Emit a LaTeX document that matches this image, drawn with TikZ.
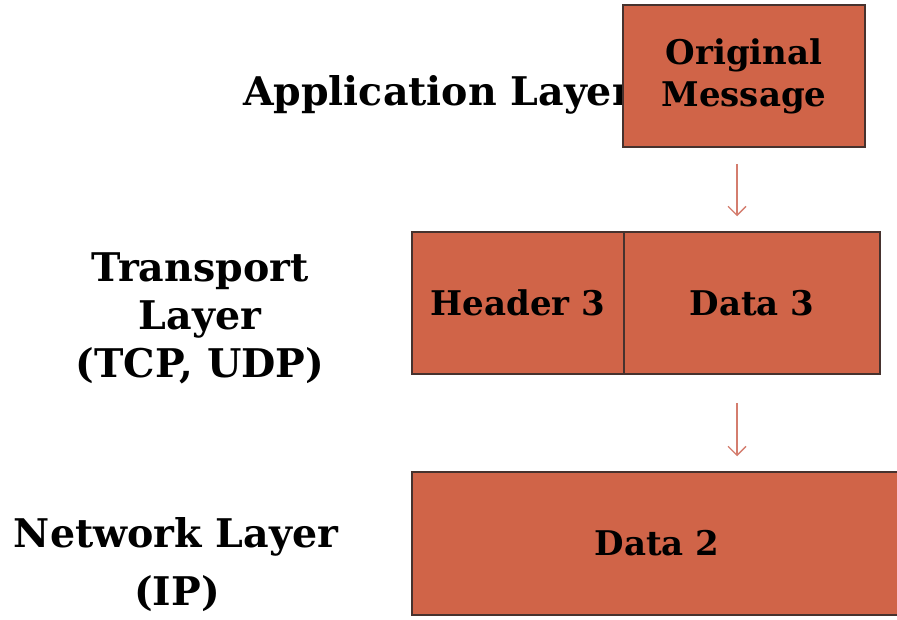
\documentclass[tikz,border=0pt]{standalone}
\usepackage{fontspec}
\setmainfont{DejaVu Serif}
\usetikzlibrary{arrows.meta}
\definecolor{boxfill}{RGB}{208,100,72}
\definecolor{boxline}{RGB}{70,50,46}
\definecolor{arrcol}{RGB}{212,125,110}
\newcommand{\lblfont}{\fontsize{39.5}{48}\selectfont\bfseries}
\newcommand{\boxfont}{\fontsize{34}{42}\selectfont\bfseries}
\tikzset{
  layerbox/.style={draw=boxline, line width=1.5pt, fill=boxfill, rectangle, inner sep=0pt, align=center, font=\boxfont},
  layerlbl/.style={align=center, font=\lblfont, inner sep=0pt},
  flowarrow/.style={draw=arrcol, line width=1.4pt, -{Straight Barb[length=9pt,width=18pt]}}
}
\begin{document}
\begin{tikzpicture}[x=1pt,y=-1pt]
\useasboundingbox (0,0) rectangle (897,619);
% labels
\node[layerlbl, anchor=base] (applbl) at (438,105) {Application Layer};
\node[layerlbl, anchor=base] (trlbl1) at (200,281) {Transport};
\node[layerlbl, anchor=base] (trlbl2) at (200,329) {Layer};
\node[layerlbl, anchor=base] (trlbl3) at (200,377) {(TCP, UDP)};
\node[layerlbl, anchor=base] (nwlbl1) at (176,547) {Network Layer};
\node[layerlbl, anchor=base] (nwlbl2) at (177,605) {(IP)};
% boxes
\node[layerbox, minimum width=242pt, minimum height=142pt] (orig) at (744,76) {Original\\Message};
\node[layerbox, minimum width=212pt, minimum height=142pt] (hdr3) at (518,303) {Header 3};
\node[layerbox, minimum width=256pt, minimum height=142pt] (data3) at (752,303) {Data 3};
\node[layerbox, minimum width=490pt, minimum height=143pt] (data2) at (657,543.5) {Data 2};
% arrows
\draw[flowarrow] ([xshift=-7pt,yshift=-16pt]orig.south) -- ([xshift=-15pt,yshift=15pt]data3.north);
\draw[flowarrow] ([xshift=-15pt,yshift=-28pt]data3.south) -- ([xshift=80pt,yshift=15pt]data2.north);
\end{tikzpicture}
\end{document}
